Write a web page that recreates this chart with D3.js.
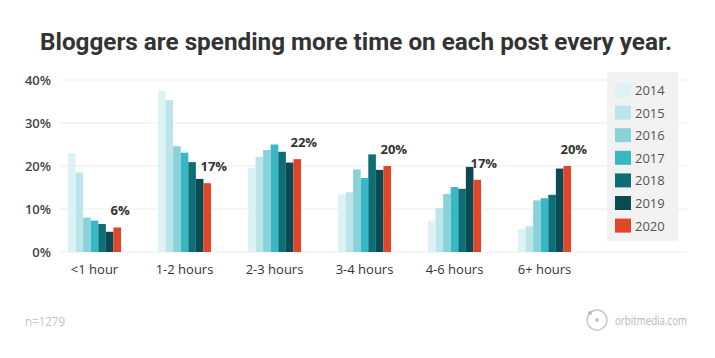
<!DOCTYPE html>
<html><head><meta charset="utf-8">
<script src="https://cdn.jsdelivr.net/npm/d3@7"></script>
<style>body{margin:0;background:#fff}svg{display:block}</style>
</head><body>
<svg id="c" width="715" height="358"></svg>
<script>
const categories = ["<1 hour","1-2 hours","2-3 hours","3-4 hours","4-6 hours","6+ hours"];
const years = ["2014","2015","2016","2017","2018","2019","2020"];
const colors = ["#ddf2f5","#bce5ea","#8ad2da","#38b8c5","#0d6e75","#0a4a50","#e0462a"];
const s2014 = [23, 37.4, 19.6, 13.4, 7.3, 5.3];
const s2015 = [18.5, 35.3, 22.1, 13.9, 10.2, 6.0];
const s2016 = [8.0, 24.6, 23.7, 19.2, 13.5, 12.0];
const s2017 = [7.3, 23.1, 25.0, 17.2, 15.1, 12.5];
const s2018 = [6.5, 20.9, 23.3, 22.7, 14.7, 13.3];
const s2019 = [4.7, 17.0, 20.8, 19.1, 19.8, 19.4];
const s2020 = [5.7, 16.0, 21.6, 20.0, 16.8, 20.0];
const labels2020 = ["6%","17%","22%","20%","17%","20%"];
const yTicks = [0,10,20,30,40];
const series = [s2014,s2015,s2016,s2017,s2018,s2019,s2020];

const svg = d3.select("#c");
const x0 = d3.scaleBand().domain(categories).range([49.5,589.5]).paddingInner(0.41).paddingOuter(0.205);
const x1 = d3.scaleBand().domain(years).range([0,x0.bandwidth()]);
const y = d3.scaleLinear().domain([0,40]).range([252,80]);

// title
svg.append("text").attr("x",356).attr("y",50).attr("text-anchor","middle")
  .attr("font-family","Roboto, 'Open Sans', sans-serif").attr("font-weight","700")
  .attr("font-size",23).attr("fill","#333").attr("textLength",632).attr("lengthAdjust","spacingAndGlyphs")
  .text("Bloggers are spending more time on each post every year.");

// grid
svg.append("g").selectAll("line").data(yTicks).join("line")
  .attr("x1",60).attr("x2",687).attr("y1",d=>y(d)).attr("y2",d=>y(d))
  .attr("stroke","#ececec").attr("stroke-width",1);

// y labels
const yAxis = d3.axisLeft(y).tickValues(yTicks).tickFormat(d=>d+"%").tickSize(0).tickPadding(0);
const ga = svg.append("g").attr("transform","translate(51,0)").call(yAxis);
ga.select(".domain").remove();
ga.selectAll("text").attr("font-family","'Open Sans', sans-serif").attr("font-weight","600")
  .attr("font-size",13).attr("fill","#444");

// legend background
svg.append("rect").attr("x",607).attr("y",72).attr("width",71).attr("height",169).attr("fill","#f2f2f2");

// bars
const groups = svg.append("g").selectAll("g").data(categories).join("g")
  .attr("transform",d=>`translate(${x0(d)},0)`);
groups.selectAll("rect").data((d,i)=>years.map((yr,j)=>({yr,j,v:series[j][i]}))).join("rect")
  .attr("x",d=>x1(d.yr)).attr("width",x1.bandwidth())
  .attr("y",d=>y(d.v)).attr("height",d=>y(0)-y(d.v)).attr("fill",d=>colors[d.j]);

// value labels
svg.append("g").selectAll("text").data(categories).join("text")
  .attr("x",(d)=>x0(d)+x1("2020")-3).attr("y",(d,i)=>y(s2020[i])-12)
  .attr("font-family","'Open Sans', sans-serif").attr("font-weight","700").attr("font-size",13).attr("fill","#333")
  .text((d,i)=>labels2020[i]);

// x labels
const xAxis = d3.axisBottom(x0).tickSize(0).tickPadding(0);
const gx = svg.append("g").attr("transform","translate(0,265)").call(xAxis);
gx.select(".domain").remove();
gx.selectAll("text").attr("font-family","'Open Sans', sans-serif").attr("font-size",13).attr("fill","#333").attr("dy","0.71em");

// legend
const lg = svg.append("g").selectAll("g").data(years).join("g")
  .attr("transform",(d,i)=>`translate(615,${83+i*22.6})`);
lg.append("rect").attr("width",16).attr("height",14).attr("fill",(d,i)=>colors[i]);
lg.append("text").attr("x",20).attr("y",12).attr("font-family","'Open Sans', sans-serif")
  .attr("font-size",13).attr("fill","#555").text(d=>d);

// footer
svg.append("text").attr("x",25).attr("y",326).attr("font-family","'Open Sans', sans-serif")
  .attr("font-size",12).attr("fill","#c4c4c4").attr("textLength",40).attr("lengthAdjust","spacingAndGlyphs").text("n=1279");
svg.append("circle").attr("cx",597).attr("cy",320).attr("r",10).attr("fill","none").attr("stroke","#c8c8c8").attr("stroke-width",1.5);
svg.append("circle").attr("cx",597).attr("cy",320).attr("r",2).attr("fill","#c8c8c8");
svg.append("circle").attr("cx",590).attr("cy",313).attr("r",2).attr("fill","#bbb");
svg.append("text").attr("x",615).attr("y",325).attr("font-family","'Open Sans', sans-serif")
  .attr("font-size",13).attr("fill","#b8b8b8").attr("textLength",72).attr("lengthAdjust","spacingAndGlyphs").text("orbitmedia.com");
</script>
</body></html>
